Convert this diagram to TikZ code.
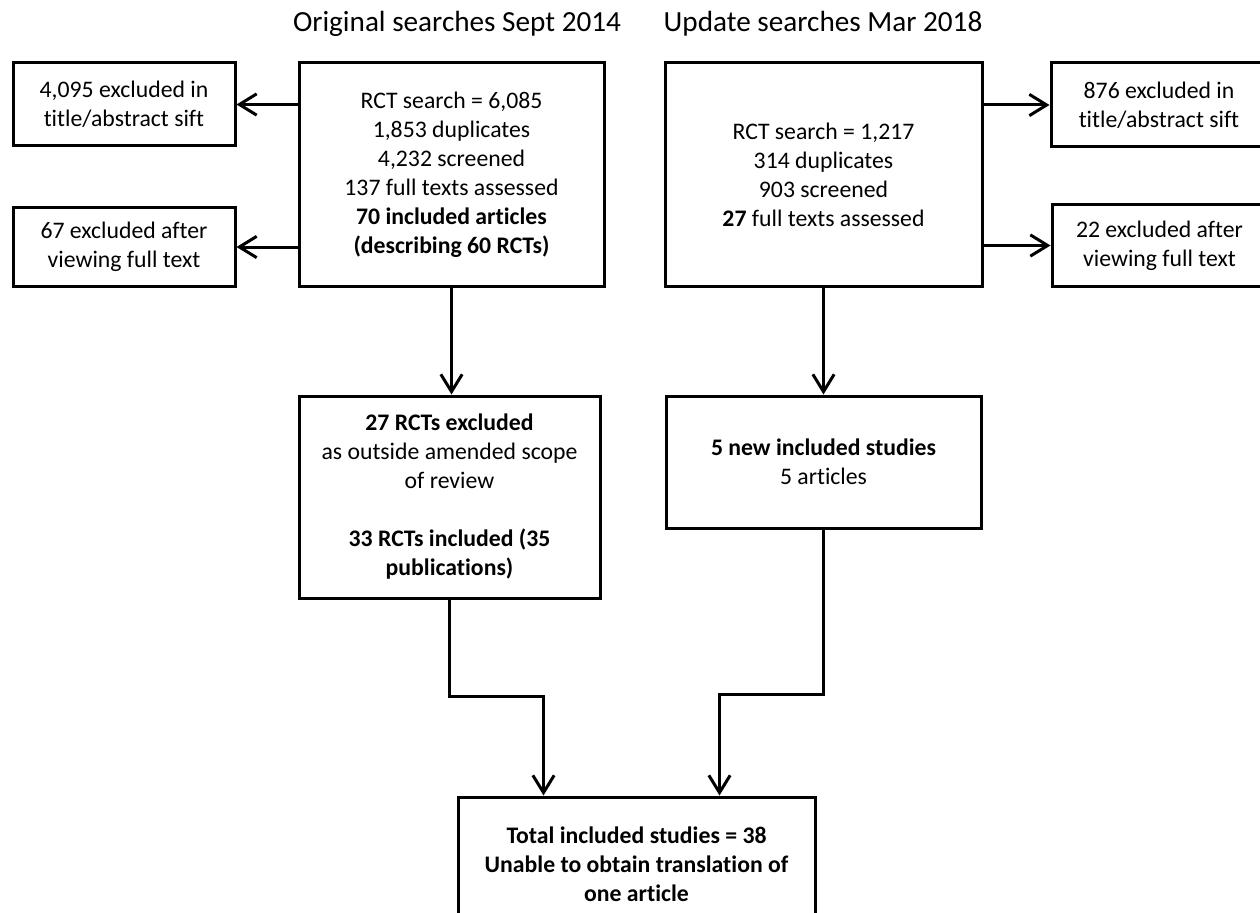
\documentclass[tikz,border=0pt]{standalone}
\usepackage{fontspec}
\setmainfont{Carlito}[Ligatures=CommonOff]
\usetikzlibrary{arrows.meta,calc}

\begin{document}
\begin{tikzpicture}[x=0.75pt,y=-0.75pt]
  \tikzset{box/.style={draw,line width=2.25pt,rectangle,align=center,inner sep=0pt,
      font=\fontsize{17.8}{21.75}\selectfont},
    heading/.style={font=\fontsize{21.9}{26}\selectfont,anchor=base,inner sep=0pt},
    arr/.style={line width=2.25pt,-{Straight Barb[length=13pt,width=16pt]}}}
  \clip (0,0) rectangle (1260,913);
  \node[heading] (orig) at (457,32) {Original searches Sept 2014};
  \node[heading] (upd) at (823,32) {Update searches Mar 2018};
  \node[box,minimum width=166.5pt,minimum height=62.25pt] (exA) at (124,104.5) {4,095 excluded in\\title/abstract sift};
  \node[box,minimum width=166.5pt,minimum height=58.5pt] (exB) at (124,247) {67 excluded after\\viewing full text};
  \node[box,minimum width=228.75pt,minimum height=167.25pt] (srchA) at (451.5,174.5) {RCT search = 6,085\\1,853 duplicates\\4,232 screened\\137 full texts assessed\\\textbf{70 included articles}\\\textbf{(describing 60 RCTs)}};
  \node[box,minimum width=237.75pt,minimum height=167.25pt] (srchB) at (823.5,174.5) {RCT search = 1,217\\314 duplicates\\903 screened\\\textbf{27} full texts assessed};
  \node[box,minimum width=162pt,minimum height=63pt] (exC) at (1159,105) {876 excluded in\\title/abstract sift};
  \node[box,minimum width=161.25pt,minimum height=60.75pt] (exD) at (1159.5,245.5) {22 excluded after\\viewing full text};
  \node[box,minimum width=225.75pt,minimum height=151.5pt] (inclA) at (449.5,497) {\textbf{27 RCTs excluded}\\as outside amended scope\\of review\\[21.75pt]\textbf{33 RCTs included (35}\\\textbf{publications)}};
  \node[box,minimum width=236.25pt,minimum height=99pt] (inclB) at (823.5,462) {\textbf{5 new included studies}\\5 articles};
  \node[box,minimum width=267.75pt,minimum height=100.5pt] (total) at (636.5,864) {\textbf{Total included studies = 38}\\\textbf{Unable to obtain translation of}\\\textbf{one article}};
  \draw[arr] (exA.east -| srchA.west) -- (exA.east);
  \draw[arr] (exB.east -| srchA.west) -- (exB.east);
  \draw[arr] (exC.west -| srchB.east) -- (exC.west);
  \draw[arr] (exD.west -| srchB.east) -- (exD.west);
  \draw[arr] (srchA.south) -- (srchA.south |- inclA.north);
  \draw[arr] (srchB.south) -- (srchB.south |- inclB.north);
  \coordinate (inL) at ($(total.north)+(-93,0)$);
  \coordinate (inR) at ($(total.north)+(83,0)$);
  \draw[arr] (inclA.south) -- ++(0,97) -| (inL);
  \draw[arr] (inclB.south) -- ++(0,165) -| (inR);
\end{tikzpicture}
\end{document}
